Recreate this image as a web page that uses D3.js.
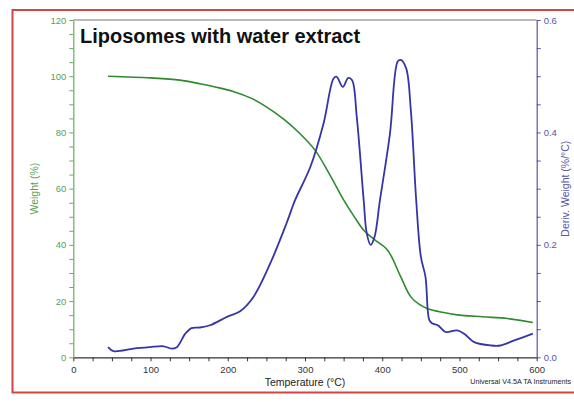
<!DOCTYPE html>
<html><head><meta charset="utf-8">
<script src="https://cdn.jsdelivr.net/npm/d3@7"></script>
<style>body{margin:0;background:#fff}svg{display:block}</style>
</head><body>
<script>
const title = "Liposomes with water extract";
const xLabel = "Temperature (°C)";
const yLeftLabel = "Weight (%)";
const yRightLabel = "Deriv. Weight (%/°C)";
const footer = "Universal V4.5A TA Instruments";
const xTicks = [0,100,200,300,400,500,600];
const yLeftTicks = [0,20,40,60,80,100,120];
const yRightTicks = [0.0,0.2,0.4,0.6];

const weightT = [45,100,138,164,185,207,230,250,272,293,313,332,350,365,376,390,407,424,437,448,459,478,497,530,562,595];
const weightV = [100,99.4,98.6,97.3,96.1,94.6,92.2,89.1,84.8,79.7,73.7,65.0,56,49.5,45.2,41.9,38.1,28.6,21.5,18.8,17.3,16.0,15.1,14.4,13.8,12.4];

const derivT = [45,52,78,99,117,127,134,145,153,164,177,199,216,233,255,276,287,307,324,337,341,349,356,361,367,376,380,385,390,397,410,420,424,431,437,444,450,456,461,465,472,482,497,506,519,541,553,571,595];
const derivV = [0.018,0.011,0.0155,0.018,0.0196,0.0155,0.018,0.042,0.052,0.053,0.057,0.072,0.082,0.107,0.167,0.238,0.279,0.339,0.416,0.496,0.499,0.481,0.497,0.493,0.428,0.279,0.22,0.2,0.214,0.279,0.398,0.526,0.529,0.514,0.44,0.279,0.179,0.143,0.066,0.06,0.057,0.045,0.048,0.042,0.027,0.021,0.021,0.030,0.042];

const W = 574, H = 402;
const svg = d3.select("body").append("svg").attr("width", W).attr("height", H);
const L = 73.3, R = 536.7, T = 20, B = 357.3;
const x = d3.scaleLinear().domain([0,600]).range([L,R]);
const yL = d3.scaleLinear().domain([0,120]).range([B,T]);
const yR = d3.scaleLinear().domain([0,0.6]).range([B,T]);
const font = "Arial, 'Liberation Sans', sans-serif";

// red frame
svg.append("path").attr("d", `M${W+5},10 H12.5 V392.5 H${W+5}`)
  .attr("fill","none").attr("stroke","#d04444").attr("stroke-width",2);

// top plot border
svg.append("line").attr("x1",L).attr("x2",R).attr("y1",T).attr("y2",T)
  .attr("stroke","#777").attr("stroke-width",1.2);

const green = "#2f8a2f", greenLab = "#5aa05a", blue = "#3535a8", blueAxis = "#5555aa";

function styleAxis(g, col, labCol){
  g.selectAll("path.domain").attr("stroke", col).attr("stroke-width",1.2);
  g.selectAll("line").attr("stroke", col);
  g.selectAll("text").attr("fill", labCol).attr("font-family", font).attr("font-size", 9.5);
}

// x axis
const gx = svg.append("g").attr("transform",`translate(0,${B})`)
  .call(d3.axisBottom(x).tickValues(d3.range(0,601,25)).tickSize(4).tickSizeOuter(0)
    .tickFormat(d => xTicks.includes(d) ? d : ""));
styleAxis(gx, "#333", "#333");
gx.selectAll("text").attr("dy","0.9em");

// left axis
const gl = svg.append("g").attr("transform",`translate(${L},0)`)
  .call(d3.axisLeft(yL).tickValues(d3.range(0,121,5)).tickSize(4).tickSizeOuter(0)
    .tickFormat(d => yLeftTicks.includes(d) ? d : ""));
styleAxis(gl, "#6aaa6a", greenLab);

// right axis
const gr = svg.append("g").attr("transform",`translate(${R},0)`)
  .call(d3.axisRight(yR).tickValues(d3.range(0,13).map(i=>i*0.05)).tickSize(4).tickSizeOuter(0)
    .tickFormat(d => yRightTicks.some(v=>Math.abs(v-d)<1e-6) ? d3.format(".1f")(d) : ""));
styleAxis(gr, blueAxis, blueAxis);

// curves
const wData = weightT.map((t,i)=>[t,weightV[i]]);
const dData = derivT.map((t,i)=>[t,derivV[i]]);
svg.append("path").datum(wData)
  .attr("d", d3.line().x(d=>x(d[0])).y(d=>yL(d[1])).curve(d3.curveCatmullRom.alpha(0.5)))
  .attr("fill","none").attr("stroke",green).attr("stroke-width",1.6);
svg.append("path").datum(dData)
  .attr("d", d3.line().x(d=>x(d[0])).y(d=>yR(d[1])).curve(d3.curveCatmullRom.alpha(0.5)))
  .attr("fill","none").attr("stroke",blue).attr("stroke-width",1.8);

// title
svg.append("text").attr("x",80).attr("y",43).text(title)
  .attr("font-family",font).attr("font-weight","bold").attr("font-size",20).attr("fill","#111");

// axis labels
svg.append("text").attr("x",(L+R)/2).attr("y",386).attr("text-anchor","middle").text(xLabel)
  .attr("font-family",font).attr("font-size",10.5).attr("fill","#222");
svg.append("text").attr("transform",`translate(38,${(T+B)/2}) rotate(-90)`).attr("text-anchor","middle")
  .text(yLeftLabel).attr("font-family",font).attr("font-size",10.5).attr("fill",greenLab);
svg.append("text").attr("transform",`translate(569,${(T+B)/2}) rotate(-90)`).attr("text-anchor","middle")
  .text(yRightLabel).attr("font-family",font).attr("font-size",10.5).attr("fill",blueAxis);

svg.append("text").attr("x",571).attr("y",384).attr("text-anchor","end").text(footer)
  .attr("font-family",font).attr("font-size",7.2).attr("fill","#222");
</script>
</body></html>
